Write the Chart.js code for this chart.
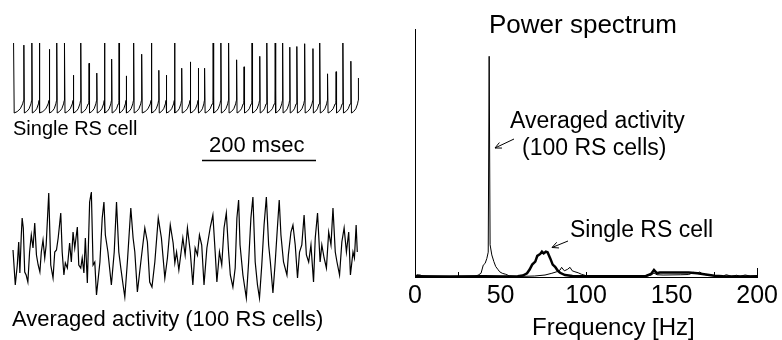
<!DOCTYPE html>
<html>
<head>
<meta charset="utf-8">
<script src="https://cdn.jsdelivr.net/npm/chart.js@4.4.0/dist/chart.umd.min.js"></script>
<style>
  body { margin: 0; background: #fff; }
  #wrap { position: relative; width: 782px; height: 340px; }
  #wrap canvas { position: absolute; left: 0; top: 0; }
</style>
</head>
<body>
<div id="wrap">
  <canvas id="spikeChart" width="782" height="340"></canvas>
  <canvas id="avgChart" width="782" height="340"></canvas>
  <canvas id="spectrumChart" width="782" height="340"></canvas>
</div>
<script>
// Single RS cell: spike times (ms) and spike peaks (mV)
const spikeTimes = [1, 19, 33, 46, 63.5, 76.5, 90, 105.5, 118.5, 133, 146.5, 160, 172.5, 185.5, 198, 211, 225, 242, 255, 268,
    282.5, 295, 310, 324, 335, 350, 363.5, 377, 391, 404, 418, 431.5, 444, 458.5, 471.5, 484, 496.5, 510, 524.5, 536.5,
    550, 565, 577, 591, 604];
const spikePeaks = [30, 27, 30, 30, 21, 30, 30, -16, 30, 1, -13, 30, 7, 30, -17, 30, 14, 30, -9, -16,
    30, -6, 3, -6, -6, 30, 30, 30, 6, -4, 30, 11, 30, 30, 30, 24, 25, 29, 22, 30,
    -14, -11, 30, 4, -20];
const isiPhase = [0.06, 0.35, 0.65, 0.88, 0.97];
const isiVolt = [-70, -68, -64, -57, -52];

// Averaged activity (100 RS cells): time (ms) and value (a.u.)
const avgTimes = [0, 4, 7.5, 10, 12, 14.5, 16, 18, 20.5, 23,
    26, 29, 32, 35, 38, 41, 44, 47, 49.5, 52.5,
    55.5, 58, 62.5, 66, 70, 73, 76, 79, 83.5, 86,
    89, 91.5, 95, 99, 102, 105, 108, 112.5, 115, 118.5,
    121, 124, 126.5, 130, 134, 137, 140, 143, 146, 152,
    156, 159, 161.5, 166, 172, 177, 181, 185, 188.5, 192.5,
    195.5, 200, 206, 210, 213, 217.5, 223.5, 230.5, 235, 239,
    243, 248, 254, 259.5, 265.5, 270, 275, 280, 283, 286,
    290, 297, 301, 305, 310, 314.5, 318.5, 322.5, 326, 330,
    334, 339, 345, 349.5, 353.5, 356.5, 361, 365, 369, 373,
    377, 380, 384.5, 388.5, 391.5, 394.5, 397, 402, 408, 412,
    416, 419.5, 423.5, 427.5, 431, 435, 439, 443, 447, 450,
    454.5, 458.5, 461.5, 465.5, 468.5, 473, 479, 481.5, 486, 489.5,
    493.5, 497.5, 501, 505, 509, 513, 517, 521, 525.5, 528.5,
    532.5, 537, 540, 544, 548, 552, 556, 559.5, 563.5, 566.5,
    571, 575, 579, 583, 587, 590, 594.5, 597, 600, 602];
const avgValues = [50, 15, 35, 58, 27, 65, 82, 72, 28, 25,
    18, 48, 65, 52, 77, 45, 35, 28, 48, 60,
    42, 55, 107, 35, 22, 48, 50, 62, 87, 48,
    25, 37, 32, 57, 38, 68, 52, 73, 35, 32,
    42, 27, 62, 17, 98, 108, 35, 38, 5, 38,
    82, 98, 65, 48, 15, 48, 98, 48, 32, 15,
    3, 38, 92, 62, 48, 8, 38, 72, 58, 18,
    13, 38, 82, 62, 22, 42, 75, 57, 37, 48,
    30, 62, 45, 72, 48, 15, 52, 45, 65, 55,
    15, 52, 73, 85, 48, 18, 48, 35, 72, 87,
    48, 25, 13, 32, 82, 100, 55, 25, 2, 38,
    82, 103, 38, 15, 2, 35, 75, 103, 55, 38,
    7, 38, 65, 100, 65, 38, 25, 45, 68, 75,
    55, 22, 48, 55, 85, 45, 38, 55, 18, 62,
    87, 38, 55, 42, 32, 68, 55, 92, 48, 38,
    25, 58, 72, 48, 68, 25, 48, 42, 75, 48];

// Power spectrum, averaged activity (thin line)
const avgFreq = [0, 1, 3, 5, 8, 35, 37, 38.6, 39.9, 41,
    42, 42.8, 43.35, 43.9, 44.9, 46.1, 47.2, 48.4, 49.5, 51,
    53, 55, 60, 70, 76, 80, 82.8, 84.8, 85.7, 87.3,
    89.2, 90.6, 91.9, 93.5, 95.4, 97.3, 100.2, 110, 135, 138,
    139.7, 141.5, 145, 155, 160, 163, 164.5, 166.5, 168, 172,
    180, 182, 185, 188, 190, 193, 196, 200];
const avgPower = [0.2, 0.9, 0.8, 0.3, 0.1, 0.2, 0.8, 1.5, 4.8, 5.5,
    7.5, 10, 89, 13, 8.9, 6.2, 4.2, 3.1, 2.1, 1.5,
    1.1, 0.5, 0.2, 0.4, 0.8, 1.5, 2.1, 2.8, 3.9, 2.5,
    3.1, 3.9, 2.5, 2.1, 1.7, 1.1, 0.5, 0.3, 0.3, 0.8,
    1.6, 0.9, 0.8, 0.9, 1.0, 1.9, 1.4, 2.0, 1.2, 0.6,
    0.4, 0.9, 0.3, 0.7, 0.3, 0.8, 0.4, 0.6];
// Power spectrum, single RS cell (thick line)
const cellFreq = [0, 20, 40, 55, 60, 63, 65.5, 67, 68.5, 70.3,
    71.5, 73.2, 74.2, 75.2, 76.5, 77.5, 79, 80.5, 81.9, 83.5,
    84.8, 87.7, 92, 100, 120, 135, 138, 139.7, 141.5, 143,
    150, 160, 165, 170, 175, 180, 200];
const cellPower = [0.3, 0.2, 0.3, 0.2, 0.3, 0.6, 1.5, 3.0, 5.0, 6.2,
    8.5, 9.3, 10.2, 9.5, 10.2, 10.0, 7.6, 5.0, 4.1, 2.5,
    1.7, 0.8, 0.4, 0.3, 0.3, 0.4, 1.2, 2.8, 1.5, 1.8,
    1.8, 1.8, 1.5, 1.0, 0.5, 0.3, 0.2];

const freqTicks = [0, 50, 100, 150, 200];
const minorTicks = [25, 100, 175];

const FONT = '"Liberation Sans", Arial, Helvetica, sans-serif';

// build the spike train from spike times + one interval shape
const spikeData = [];
spikeTimes.forEach((t, i) => {
    spikeData.push({ x: t, y: spikePeaks[i] });
    const next = spikeTimes[i + 1];
    if (next === undefined) return;
    isiPhase.forEach((f, k) => spikeData.push({ x: t + f * (next - t), y: isiVolt[k] }));
});

const baseOptions = (pad, xr, yr) => ({
    responsive: false,
    animation: false,
    events: [],
    layout: { padding: pad, autoPadding: false },
    plugins: { legend: { display: false }, tooltip: { enabled: false } },
    scales: {
        x: { type: 'linear', display: false, min: xr[0], max: xr[1] },
        y: { type: 'linear', display: false, min: yr[0], max: yr[1] }
    }
});

new Chart(document.getElementById('spikeChart'), {
    type: 'line',
    data: {
        datasets: [{
            data: spikeData,
            borderColor: '#000',
            borderWidth: 1,
            pointRadius: 0,
            tension: 0,
            clip: false
        }]
    },
    options: baseOptions({ left: 13, right: 423, top: 43, bottom: 227 }, [0, 605], [-70, 30])
});

new Chart(document.getElementById('avgChart'), {
    type: 'line',
    data: {
        datasets: [{
            data: avgTimes.map((t, i) => ({ x: t, y: avgValues[i] })),
            borderColor: '#000',
            borderWidth: 1.2,
            pointRadius: 0,
            tension: 0,
            clip: false
        }]
    },
    options: baseOptions({ left: 13, right: 423, top: 190, bottom: 40 }, [0, 605], [0, 110])
});

// texts, arrows, scale bar and the small axis ticks
const annotations = {
    id: 'annotations',
    afterDraw(chart) {
        const ctx = chart.ctx;
        const xs = chart.scales.x, ys = chart.scales.y;
        ctx.save();
        ctx.fillStyle = '#000';
        ctx.strokeStyle = '#000';
        const line = (x1, y1, x2, y2, w) => {
            ctx.lineWidth = w;
            ctx.beginPath(); ctx.moveTo(x1, y1); ctx.lineTo(x2, y2); ctx.stroke();
        };
        const text = (s, x, y, size) => {
            ctx.font = size + 'px ' + FONT;
            ctx.textAlign = 'left';
            ctx.textBaseline = 'alphabetic';
            ctx.fillText(s, x, y);
        };
        const arrow = (x1, y1, x2, y2) => {
            line(x1, y1, x2, y2, 1);
            const a = Math.atan2(y2 - y1, x2 - x1);
            [0.45, -0.45].forEach(d => line(x2, y2, x2 - 7 * Math.cos(a + d), y2 - 7 * Math.sin(a + d), 1));
        };

        minorTicks.forEach(f => {
            const px = Math.round(xs.getPixelForValue(f)) + 0.5;
            line(px, ys.bottom, px, ys.bottom - 5, 1);
        });
        const endX = Math.round(xs.getPixelForValue(200)) + 0.5;
        line(endX, ys.bottom, endX, ys.bottom - 9, 1);

        text('Power spectrum', 489, 33, 26);
        text('Averaged activity', 510, 128, 23);
        text('(100 RS cells)', 522, 155, 23);
        text('Single RS cell', 570, 237, 23);
        text('Frequency [Hz]', 532, 335, 24);
        arrow(514, 139, 495, 148);
        arrow(568, 241, 552, 247.5);

        text('Single RS cell', 13, 135, 20);
        text('200 msec', 209, 152, 22);
        line(202, 160.5, 316, 160.5, 1.5);
        text('Averaged activity (100 RS cells)', 12, 326, 22);
        ctx.restore();
    }
};

new Chart(document.getElementById('spectrumChart'), {
    type: 'line',
    data: {
        datasets: [{
            label: 'Averaged activity (100 RS cells)',
            data: avgFreq.map((f, i) => ({ x: f, y: avgPower[i] })),
            borderColor: '#000',
            borderWidth: 1,
            pointRadius: 0,
            tension: 0
        }, {
            label: 'Single RS cell',
            data: cellFreq.map((f, i) => ({ x: f, y: cellPower[i] })),
            borderColor: '#000',
            borderWidth: 2.5,
            pointRadius: 0,
            tension: 0
        }]
    },
    options: {
        responsive: false,
        animation: false,
        events: [],
        layout: { padding: { left: 415, right: 21, top: 29, bottom: 0 }, autoPadding: false },
        plugins: { legend: { display: false }, tooltip: { enabled: false } },
        scales: {
            x: {
                type: 'linear',
                min: 0,
                max: 200,
                afterFit: s => { s.height = 63; },
                afterBuildTicks: s => { s.ticks = freqTicks.map(v => ({ value: v })); },
                grid: { display: false, drawTicks: false },
                border: { display: true, color: '#000', width: 1 },
                ticks: {
                    color: '#000',
                    padding: 4,
                    maxRotation: 0,
                    autoSkip: false,
                    font: { family: FONT, size: 25 }
                }
            },
            y: {
                type: 'linear',
                min: 0,
                max: 100,
                afterFit: s => { s.width = 0; },
                grid: { display: false, drawTicks: false },
                border: { display: true, color: '#000', width: 1 },
                ticks: { display: false }
            }
        }
    },
    plugins: [annotations]
});
</script>
</body>
</html>
